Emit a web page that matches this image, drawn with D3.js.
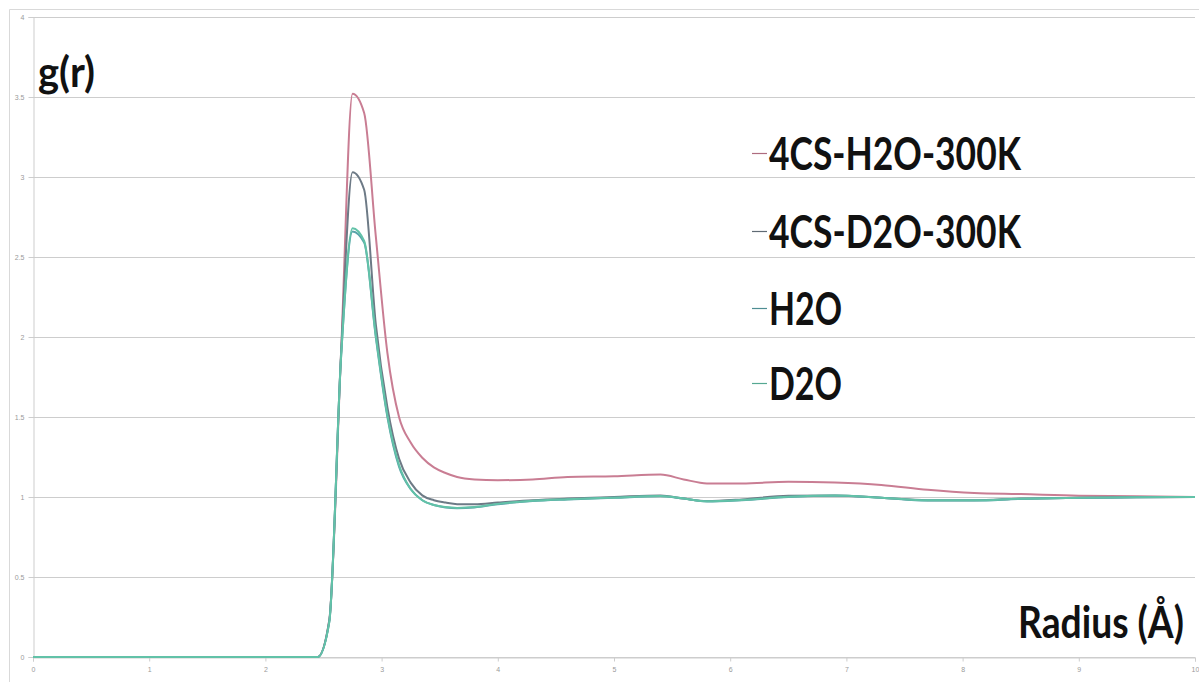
<!DOCTYPE html>
<html>
<head>
<meta charset="utf-8">
<script src="https://cdn.jsdelivr.net/npm/d3@7"></script>
<style>
  html, body { margin: 0; padding: 0; background: #ffffff; }
  svg { display: block; }
</style>
</head>
<body>
<svg id="chart" width="1199" height="682"></svg>
<script>
// Radial distribution function g(r) for four systems
const radius = [0, 1, 2, 2.45, 2.55, 2.65, 2.75, 2.85, 2.95, 3.05, 3.15, 3.25, 3.35, 3.45, 3.55, 3.65,
                3.8, 4.0, 4.3, 4.6, 5.0, 5.4, 5.6, 5.8, 6.1, 6.5, 6.9, 7.3, 7.7, 8.1, 8.5, 9.0, 9.5, 10];

const gr4csH2O = [0, 0, 0, 0, 0.23, 1.88, 3.52, 3.40, 2.63, 1.90, 1.50, 1.34, 1.245, 1.185, 1.15, 1.125,
                  1.11, 1.105, 1.11, 1.125, 1.13, 1.14, 1.11, 1.085, 1.085, 1.095, 1.09, 1.075, 1.045, 1.025, 1.018, 1.008, 1.005, 1.0];

const gr4csD2O = [0, 0, 0, 0, 0.23, 1.88, 3.03, 2.92, 2.08, 1.56, 1.24, 1.09, 1.01, 0.98, 0.965, 0.955,
                  0.955, 0.965, 0.98, 0.99, 1.0, 1.01, 0.99, 0.975, 0.985, 1.008, 1.01, 0.995, 0.98, 0.98, 0.99, 0.995, 0.998, 1.0];

const grH2O    = [0, 0, 0, 0, 0.22, 1.86, 2.66, 2.59, 2.00, 1.50, 1.19, 1.05, 0.98, 0.95, 0.935, 0.93,
                  0.935, 0.955, 0.975, 0.985, 0.995, 1.005, 0.99, 0.972, 0.98, 1.0, 1.008, 0.995, 0.978, 0.978, 0.988, 0.994, 0.998, 1.0];

const grD2O    = [0, 0, 0, 0, 0.22, 1.86, 2.68, 2.60, 2.01, 1.51, 1.20, 1.05, 0.98, 0.95, 0.937, 0.932,
                  0.937, 0.957, 0.976, 0.986, 0.996, 1.006, 0.99, 0.973, 0.981, 1.001, 1.009, 0.996, 0.979, 0.979, 0.989, 0.995, 0.999, 1.0];

const seriesNames = ["4CS-H2O-300K", "4CS-D2O-300K", "H2O", "D2O"];
const seriesValues = [gr4csH2O, gr4csD2O, grH2O, grD2O];
const seriesColors = ["#c97d93", "#6d7a86", "#5aa3aa", "#62c2a8"];

const xTicks = [0, 1, 2, 3, 4, 5, 6, 7, 8, 9, 10];
const yTicks = [0, 0.5, 1, 1.5, 2, 2.5, 3, 3.5, 4];
const yTickLabels = ["0", "0.5", "1", "1.5", "2", "2.5", "3", "3.5", "4"];

const svg = d3.select("#chart");

// chart area border (top and left edges)
svg.append("path")
  .attr("d", "M9.5,682 V9.5 H1199")
  .attr("fill", "none")
  .attr("stroke", "#d9d9d9");

const x = d3.scaleLinear().domain([0, 10]).range([33, 1195]);
const y = d3.scaleLinear().domain([0, 4]).range([657, 17]);

// horizontal gridlines
svg.append("g")
  .selectAll("line")
  .data(yTicks)
  .join("line")
  .attr("x1", x(0)).attr("x2", x(10))
  .attr("y1", d => Math.round(y(d)) + 0.5)
  .attr("y2", d => Math.round(y(d)) + 0.5)
  .attr("stroke", "#cdcdcd")
  .attr("stroke-width", 1);

// y axis
const yAxis = d3.axisLeft(y)
  .tickValues(yTicks)
  .tickFormat((d, i) => yTickLabels[i])
  .tickSize(5)
  .tickPadding(4);
const gy = svg.append("g")
  .attr("transform", `translate(${x(0) + 0.5},0)`)
  .call(yAxis);
gy.select(".domain").attr("stroke", "#cdcdcd");
gy.selectAll(".tick line").attr("stroke", "#cdcdcd");
gy.selectAll(".tick text")
  .attr("fill", "#9a9a9a")
  .style("font-family", "'Liberation Sans', Arial, sans-serif")
  .style("font-size", "7px");

// x axis
const xAxis = d3.axisBottom(x)
  .tickValues(xTicks)
  .tickFormat(d3.format("d"))
  .tickSize(4)
  .tickPadding(6);
const gx = svg.append("g")
  .attr("transform", `translate(0,${Math.round(y(0)) + 0.5})`)
  .call(xAxis);
gx.select(".domain").attr("stroke", "#cdcdcd");
gx.selectAll(".tick line").attr("stroke", "#cdcdcd");
gx.selectAll(".tick text")
  .attr("fill", "#9a9a9a")
  .style("font-family", "'Liberation Sans', Arial, sans-serif")
  .style("font-size", "7px");

// series lines
const line = d3.line()
  .x((d, i) => x(radius[i]))
  .y(d => y(d))
  .curve(d3.curveMonotoneX);

svg.append("g")
  .selectAll("path")
  .data(seriesValues)
  .join("path")
  .attr("d", d => line(d))
  .attr("fill", "none")
  .attr("stroke", (d, i) => seriesColors[i])
  .attr("stroke-width", 2)
  .attr("stroke-linejoin", "round");

// bold condensed label: horizontally scaled so it spans the given width
function condensedLabel(parent, str, px, py, size, width) {
  const t = parent.append("text")
    .attr("fill", "#111111")
    .style("font-family", "Lato, 'Open Sans', sans-serif")
    .style("font-weight", "700")
    .style("font-size", size + "px")
    .text(str);
  const natural = t.node().getComputedTextLength();
  t.attr("transform", `translate(${px},${py}) scale(${width / natural},1)`);
  return t;
}

// legend
const legendBaselines = [170, 248, 325, 400];
const legendWidths = [252, 252, 73, 73];
const legend = svg.append("g");
seriesNames.forEach((name, i) => {
  legend.append("line")
    .attr("x1", 752).attr("x2", 767)
    .attr("y1", legendBaselines[i] - 16.5).attr("y2", legendBaselines[i] - 16.5)
    .attr("stroke", d3.color(seriesColors[i]).darker(0.4))
    .attr("stroke-width", 1.2);
  condensedLabel(legend, name, 769, legendBaselines[i], 45, legendWidths[i]);
});

// axis titles
condensedLabel(svg, "g(r)", 38, 87, 42, 57);
condensedLabel(svg, "Radius (Å)", 1018, 638, 43, 166);
</script>
</body>
</html>
